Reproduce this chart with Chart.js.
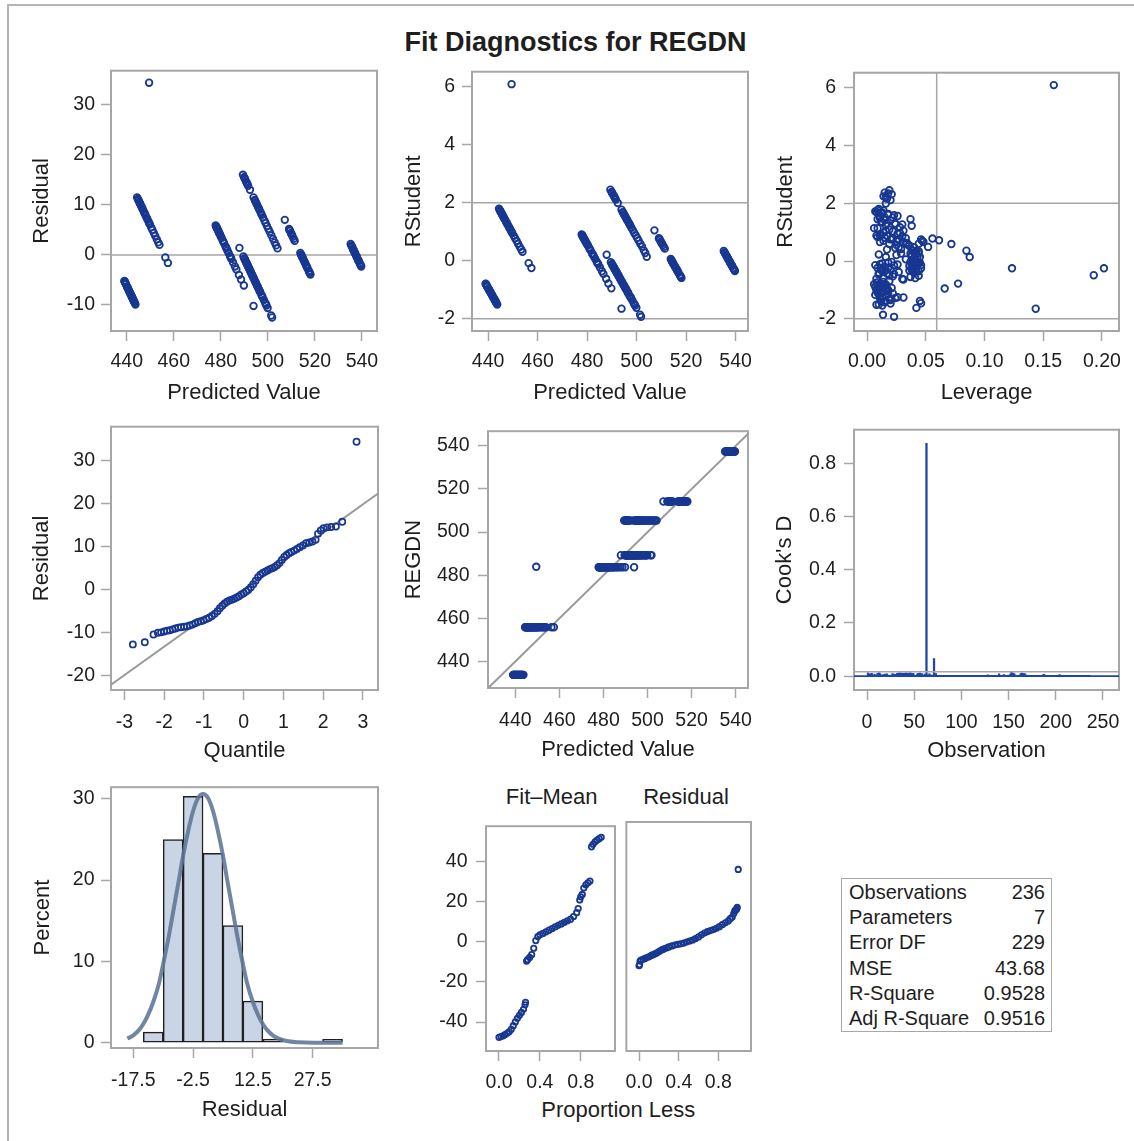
<!DOCTYPE html>
<html><head><meta charset="utf-8">
<script src="https://cdn.jsdelivr.net/npm/chart.js@4.4.1/dist/chart.umd.min.js"></script>
<style>
html,body{margin:0;padding:0;background:#fff;}
body{width:1134px;height:1141px;position:relative;overflow:hidden;font-family:"Liberation Sans",Arial,Helvetica,sans-serif;color:#1e1e1e;}
canvas{position:absolute;}
.txt{position:absolute;white-space:nowrap;}
</style></head><body>
<div style="position:absolute;left:7px;top:4px;width:1140px;height:1150px;border-left:2px solid #b4b4b4;border-top:2px solid #b4b4b4;"></div>
<div class="txt" style="left:0;width:1151px;top:26px;text-align:center;font-weight:bold;font-size:27px;line-height:32px;">Fit Diagnostics for REGDN</div>
<div class="txt" style="left:551.7px;top:784px;transform:translateX(-50%);font-size:22px;line-height:26px;">Fit–Mean</div>
<div class="txt" style="left:686px;top:784px;transform:translateX(-50%);font-size:22px;line-height:26px;">Residual</div>
<div class="txt" style="left:618.3px;top:1097px;transform:translateX(-50%);font-size:22px;line-height:26px;">Proportion Less</div>
<div style="position:absolute;left:841px;top:878px;width:211px;height:154px;box-sizing:border-box;border:1.5px solid #a8a8a8;"></div>
<div id="stats"></div>
<script>
// ---------------- data ----------------
// REGDN level of each group (observed response is constant within a group)
const regdnLevels = [433.8, 455.9, 483.7, 489.3, 505.4, 514.2, 537.4];

const pred433 = [439.0, 439.2, 439.6, 439.7, 440.1, 440.4, 440.5, 440.9, 441.2, 441.3, 441.7, 442.0, 442.1, 442.5, 442.9, 443.0, 443.4, 443.7, 439.1, 439.4, 440.2, 440.7, 441.5, 442.3, 442.7, 443.2];
const res433  = [-5.2, -5.4, -5.8, -5.9, -6.3, -6.6, -6.7, -7.1, -7.4, -7.5, -7.9, -8.2, -8.3, -8.7, -9.1, -9.2, -9.6, -9.9, -5.3, -5.6, -6.4, -6.9, -7.7, -8.5, -8.9, -9.4];
const rst433  = [-0.79, -0.82, -0.88, -0.90, -0.96, -1.00, -1.02, -1.08, -1.12, -1.14, -1.20, -1.25, -1.26, -1.32, -1.38, -1.40, -1.46, -1.51, -0.80, -0.85, -0.97, -1.05, -1.17, -1.29, -1.35, -1.43];
const lev433  = [0.012, 0.009, 0.015, 0.007, 0.011, 0.018, 0.008, 0.013, 0.022, 0.010, 0.016, 0.026, 0.031, 0.019, 0.045, 0.012, 0.046, 0.008, 0.006, 0.014, 0.009, 0.017, 0.007, 0.011, 0.020, 0.015];

const pred456 = [444.4, 444.7, 445.0, 445.3, 445.5, 445.9, 446.2, 446.6, 446.9, 447.3, 447.7, 448.0, 448.4, 448.9, 449.3, 449.8, 450.4, 450.9, 451.5, 452.1, 452.8, 453.4, 453.9, 456.4, 457.5, 444.9, 445.7, 446.4, 447.5, 448.6, 449.6];
const res456  = [11.5, 11.2, 10.9, 10.6, 10.4, 10.0, 9.7, 9.3, 9.0, 8.6, 8.2, 7.9, 7.5, 7.0, 6.6, 6.1, 5.5, 5.0, 4.4, 3.8, 3.1, 2.5, 2.0, -0.5, -1.6, 11.0, 10.2, 9.5, 8.4, 7.3, 6.3];
const rst456  = [1.80, 1.75, 1.70, 1.66, 1.63, 1.56, 1.52, 1.45, 1.41, 1.34, 1.28, 1.23, 1.17, 1.09, 1.03, 0.95, 0.86, 0.78, 0.69, 0.59, 0.48, 0.39, 0.31, -0.08, -0.25, 1.72, 1.59, 1.48, 1.31, 1.14, 0.98];
const lev456  = [0.010, 0.014, 0.008, 0.012, 0.018, 0.011, 0.015, 0.009, 0.020, 0.013, 0.024, 0.016, 0.028, 0.019, 0.022, 0.026, 0.030, 0.021, 0.025, 0.033, 0.027, 0.038, 0.041, 0.044, 0.046, 0.007, 0.023, 0.011, 0.017, 0.009, 0.014];

const pred483 = [477.8, 478.1, 478.3, 478.6, 478.9, 479.2, 479.5, 479.9, 480.3, 480.8, 481.4, 482.0, 482.4, 482.8, 483.3, 483.9, 484.5, 485.2, 486.0, 486.6, 487.7, 488.6, 489.8, 493.9, 478.0, 478.4, 478.8, 479.4, 480.1, 481.1, 482.2, 484.2];
const res483  = [5.9, 5.6, 5.4, 5.1, 4.8, 4.5, 4.2, 3.8, 3.4, 2.9, 2.3, 1.7, 1.3, 0.9, 0.4, -0.2, -0.8, -1.5, -2.3, -2.9, -4.0, -4.9, -6.1, -10.2, 5.7, 5.3, 4.9, 4.3, 3.6, 2.6, 1.5, -0.5];
const rst483  = [0.91, 0.87, 0.83, 0.79, 0.74, 0.70, 0.65, 0.59, 0.53, 0.45, 0.36, 0.26, 0.20, 0.14, 0.06, -0.03, -0.12, -0.23, -0.36, -0.45, -0.62, -0.78, -0.95, -1.65, 0.88, 0.81, 0.75, 0.66, 0.56, 0.40, 0.23, -0.08];
const lev483  = [0.012, 0.017, 0.009, 0.022, 0.027, 0.014, 0.031, 0.019, 0.036, 0.024, 0.042, 0.029, 0.038, 0.016, 0.033, 0.021, 0.026, 0.018, 0.013, 0.023, 0.030, 0.0775, 0.0661, 0.1436, 0.008, 0.015, 0.020, 0.011, 0.025, 0.017, 0.010, 0.013];

const pred489 = [487.9, 489.6, 490.0, 490.3, 490.6, 490.9, 491.2, 491.5, 491.8, 492.1, 492.4, 492.8, 493.1, 493.5, 493.8, 494.2, 494.6, 495.0, 495.4, 495.8, 496.2, 496.7, 497.2, 497.7, 498.3, 498.9, 499.4, 499.9, 501.4, 501.8, 490.2, 490.8, 491.4, 492.0, 492.6, 493.3, 494.0, 494.8, 495.6, 496.5, 497.5, 499.1];
const res489  = [1.4, -0.3, -0.7, -1.0, -1.3, -1.6, -1.9, -2.2, -2.5, -2.8, -3.1, -3.5, -3.8, -4.2, -4.5, -4.9, -5.3, -5.7, -6.1, -6.5, -6.9, -7.4, -7.9, -8.4, -9.0, -9.6, -10.1, -10.6, -12.1, -12.5, -0.9, -1.5, -2.1, -2.7, -3.3, -4.0, -4.7, -5.5, -6.3, -7.2, -8.2, -9.8];
const rst489  = [0.21, -0.05, -0.11, -0.15, -0.20, -0.24, -0.29, -0.34, -0.38, -0.43, -0.47, -0.53, -0.58, -0.64, -0.69, -0.75, -0.81, -0.87, -0.93, -0.99, -1.05, -1.13, -1.21, -1.28, -1.37, -1.47, -1.54, -1.62, -1.86, -1.93, -0.14, -0.23, -0.32, -0.41, -0.50, -0.61, -0.72, -0.84, -0.96, -1.10, -1.25, -1.50];
const lev489  = [0.025, 0.018, 0.011, 0.023, 0.015, 0.009, 0.020, 0.013, 0.027, 0.017, 0.010, 0.022, 0.014, 0.031, 0.019, 0.008, 0.016, 0.012, 0.021, 0.009, 0.014, 0.018, 0.011, 0.024, 0.016, 0.020, 0.013, 0.042, 0.0136, 0.023, 0.007, 0.012, 0.016, 0.010, 0.019, 0.008, 0.014, 0.011, 0.017, 0.009, 0.013, 0.010];

const pred505 = [489.4, 489.9, 490.3, 490.8, 491.3, 491.6, 492.4, 493.9, 494.4, 494.9, 495.5, 495.9, 496.4, 496.9, 497.4, 497.9, 498.5, 499.0, 499.6, 500.2, 500.8, 501.5, 502.2, 502.9, 503.5, 504.1, 490.1, 491.0, 494.6, 495.2, 496.1, 497.1];
const res505  = [16.0, 15.5, 15.1, 14.6, 14.1, 13.8, 13.0, 11.5, 11.0, 10.5, 9.9, 9.5, 9.0, 8.5, 8.0, 7.5, 6.9, 6.4, 5.8, 5.2, 4.6, 3.9, 3.2, 2.5, 1.9, 1.3, 15.3, 14.4, 10.8, 10.2, 9.3, 8.3];
const rst505  = [2.45, 2.37, 2.31, 2.24, 2.16, 2.11, 1.99, 1.76, 1.68, 1.60, 1.51, 1.45, 1.37, 1.30, 1.22, 1.14, 1.05, 0.97, 0.88, 0.79, 0.70, 0.59, 0.49, 0.36, 0.27, 0.14, 2.34, 2.21, 1.65, 1.56, 1.42, 1.27];
const lev505  = [0.019, 0.015, 0.021, 0.014, 0.017, 0.020, 0.016, 0.009, 0.013, 0.018, 0.022, 0.037, 0.012, 0.024, 0.038, 0.006, 0.016, 0.028, 0.011, 0.033, 0.047, 0.0718, 0.052, 0.0846, 0.044, 0.0874, 0.018, 0.016, 0.010, 0.026, 0.015, 0.030];

const pred514 = [507.2, 509.0, 509.4, 509.8, 510.2, 510.6, 511.0, 511.4, 513.8, 514.1, 514.3, 514.5, 514.9, 515.3, 515.8, 516.2, 516.6, 516.9, 517.4, 517.8, 518.1, 509.2, 510.0, 514.7, 515.6, 516.4, 517.6];
const res514  = [7.0, 5.2, 4.8, 4.4, 4.0, 3.6, 3.2, 2.8, 0.4, 0.1, -0.1, -0.3, -0.7, -1.1, -1.6, -2.0, -2.4, -2.7, -3.2, -3.6, -3.9, 5.0, 4.2, -0.5, -1.4, -2.2, -3.4];
const rst514  = [1.05, 0.78, 0.72, 0.66, 0.60, 0.54, 0.48, 0.42, 0.06, 0.02, -0.02, -0.05, -0.11, -0.17, -0.25, -0.30, -0.36, -0.41, -0.49, -0.55, -0.59, 0.75, 0.63, -0.08, -0.21, -0.33, -0.51];
const lev514  = [0.031, 0.0557, 0.0613, 0.048, 0.044, 0.036, 0.040, 0.029, 0.039, 0.041, 0.037, 0.043, 0.040, 0.036, 0.2017, 0.038, 0.042, 0.040, 0.193, 0.037, 0.041, 0.046, 0.034, 0.042, 0.039, 0.036, 0.044];

const pred537 = [535.2, 535.5, 535.9, 536.2, 536.5, 536.9, 537.2, 537.6, 537.9, 538.3, 538.6, 539.0, 539.3, 539.7, 535.7, 536.4, 537.0, 537.8, 538.5, 539.5];
const res537  = [2.2, 1.9, 1.5, 1.2, 0.9, 0.5, 0.2, -0.2, -0.5, -0.9, -1.2, -1.6, -1.9, -2.3, 1.7, 1.0, 0.4, -0.4, -1.1, -2.1];
const rst537  = [0.34, 0.29, 0.23, 0.18, 0.14, 0.08, 0.03, -0.03, -0.08, -0.14, -0.18, -0.25, -0.29, -0.35, 0.26, 0.15, 0.06, -0.06, -0.17, -0.32];
const lev537  = [0.044, 0.040, 0.042, 0.038, 0.045, 0.041, 0.039, 0.043, 0.040, 0.046, 0.042, 0.1234, 0.039, 0.044, 0.037, 0.043, 0.040, 0.045, 0.038, 0.041];

// the single outlying observation
const predOut = [449.5];
const resOut  = [34.4];
const rstOut  = [6.09];
const levOut  = [0.159];
const regdnOut = [483.9];

// Q-Q plot of residuals
const qqQuantile = [-2.79, -2.49, -2.27, -2.16, -2.08, -2.00, -1.93, -1.86, -1.79, -1.72, -1.65, -1.58, -1.50, -1.43, -1.36, -1.29, -1.22, -1.15, -1.08, -1.01, -0.94, -0.87, -0.80, -0.73, -0.66, -0.60, -0.54, -0.48, -0.42, -0.36, -0.30, -0.24, -0.18, -0.12, -0.06, 0.00, 0.06, 0.12, 0.18, 0.24, 0.30, 0.36, 0.42, 0.48, 0.54, 0.60, 0.66, 0.72, 0.78, 0.84, 0.90, 0.96, 1.02, 1.08, 1.14, 1.20, 1.27, 1.34, 1.41, 1.49, 1.57, 1.65, 1.73, 1.81, 1.87, 1.94, 2.01, 2.10, 2.20, 2.32, 2.48, 2.84];
const qqResidual = [-12.7, -12.2, -10.4, -10.0, -9.9, -9.7, -9.5, -9.4, -9.2, -9.0, -8.8, -8.7, -8.6, -8.5, -8.3, -8.1, -7.8, -7.5, -7.3, -7.1, -6.8, -6.5, -6.1, -5.6, -5.0, -4.3, -3.7, -3.2, -2.8, -2.5, -2.3, -2.1, -1.8, -1.5, -1.1, -0.8, -0.4, 0.0, 0.6, 1.3, 2.1, 2.9, 3.5, 3.9, 4.2, 4.5, 4.8, 5.0, 5.3, 5.7, 6.2, 6.9, 7.6, 8.1, 8.5, 8.8, 9.1, 9.5, 9.9, 10.3, 10.8, 11.0, 11.2, 11.6, 13.0, 13.8, 14.3, 14.5, 14.6, 14.7, 15.8, 34.4];
const qqLineX = [-3.34, 3.38];
const qqLineY = [-22.08, 22.34];

// Cook's D by observation number (1..236)
const cooksD = [
0.013,0.002,0.009,0.006,0.011,0.004,0.001,0.008,0.003,0.002,
0.010,0.012,0.013,0.009,0.004,0.002,0.006,0.003,0.008,0.007,
0.009,0.002,0.001,0.004,0.003,0.002,0.010,0.005,0.008,0.003,
0.007,0.011,0.012,0.010,0.013,0.009,0.012,0.011,0.006,0.012,
0.010,0.013,0.011,0.009,0.012,0.013,0.010,0.008,0.011,0.004,
0.003,0.002,0.006,0.011,0.009,0.012,0.007,0.010,0.003,0.002,
0.008,0.004,0.876,0.005,0.003,0.009,0.006,0.002,0.003,0.004,
0.066,0.003,0.010,0.002,0.001,0.001,0.002,0.001,0.001,0.002,
0.001,0.001,0.002,0.001,0.001,0.001,0.002,0.001,0.001,0.001,
0.001,0.002,0.001,0.001,0.001,0.002,0.001,0.001,0.001,0.001,
0.002,0.001,0.001,0.001,0.001,0.002,0.001,0.001,0.002,0.001,
0.001,0.001,0.002,0.001,0.001,0.001,0.002,0.001,0.001,0.001,
0.002,0.001,0.001,0.001,0.001,0.002,0.001,0.005,0.001,0.002,
0.001,0.002,0.001,0.001,0.002,0.001,0.002,0.001,0.003,0.009,
0.002,0.001,0.003,0.002,0.006,0.002,0.001,0.003,0.002,0.004,
0.003,0.008,0.015,0.013,0.011,0.009,0.004,0.003,0.002,0.003,
0.002,0.004,0.010,0.012,0.011,0.009,0.010,0.005,0.002,0.003,
0.002,0.001,0.002,0.001,0.003,0.002,0.001,0.002,0.001,0.002,
0.001,0.002,0.001,0.002,0.003,0.002,0.007,0.005,0.002,0.001,
0.001,0.002,0.001,0.001,0.002,0.001,0.001,0.002,0.001,0.001,
0.002,0.001,0.002,0.006,0.002,0.001,0.001,0.002,0.001,0.001,
0.001,0.002,0.001,0.001,0.001,0.002,0.001,0.001,0.001,0.002,
0.001,0.001,0.002,0.001,0.001,0.001,0.002,0.001,0.001,0.001,
0.002,0.001,0.001,0.001,0.002,0.001];
const cooksCutoff = 0.0169;

// residual histogram (bin midpoints, percent) and normal density curve
const histMid = [-12.5, -7.5, -2.5, 2.5, 7.5, 12.5, 17.5, 32.5];
const histPct = [1.3, 25.0, 30.3, 23.3, 14.4, 5.1, 0.4, 0.4];
const curveX = [-19, -17.5, -16, -15, -14, -12.5, -11, -10, -8.75, -7.5, -6.25, -5, -3.75, -2.5, -1.25, 0, 1.25, 2.5, 3.75, 5, 6.25, 7.5, 8.75, 10, 11, 12.5, 14, 15, 16, 17.5, 19, 21, 24, 28, 35];
const curveY = [0.5, 0.9, 1.6, 2.3, 3.2, 5.0, 7.4, 9.7, 12.7, 16.1, 19.5, 23.0, 26.0, 28.5, 30.1, 30.6, 30.1, 28.5, 26.0, 23.0, 19.5, 16.1, 12.7, 9.7, 7.4, 5.0, 3.2, 2.3, 1.6, 0.9, 0.5, 0.2, 0.05, 0.0, 0.0];

// residual-fit spread plot
const fitMeanProp = [0.00, 0.02, 0.04, 0.06, 0.08, 0.10, 0.12, 0.14, 0.16, 0.18, 0.20, 0.22, 0.24, 0.255, 0.26, 0.27, 0.28, 0.30, 0.32, 0.34, 0.36, 0.38, 0.40, 0.43, 0.46, 0.49, 0.52, 0.55, 0.58, 0.61, 0.64, 0.67, 0.70, 0.73, 0.76, 0.775, 0.79, 0.80, 0.815, 0.83, 0.85, 0.87, 0.89, 0.905, 0.92, 0.94, 0.96, 0.98, 1.00];
const fitMeanVal  = [-47.6, -47.2, -46.8, -46.2, -45.6, -44.8, -43.6, -41.8, -39.9, -38.1, -36.6, -35.2, -33.6, -31.4, -30.1, -9.6, -8.9, -7.8, -6.4, -3.2, 0.6, 2.6, 3.5, 4.2, 5.0, 5.8, 6.6, 7.4, 8.2, 8.9, 9.7, 10.5, 11.3, 12.6, 14.5, 16.6, 20.8, 22.4, 23.6, 26.8, 28.4, 29.4, 30.3, 47.3, 48.6, 49.8, 50.7, 51.4, 52.1];
const residProp = [0.00, 0.005, 0.01, 0.02, 0.04, 0.06, 0.08, 0.10, 0.12, 0.14, 0.16, 0.18, 0.20, 0.22, 0.24, 0.26, 0.28, 0.30, 0.33, 0.36, 0.39, 0.42, 0.45, 0.48, 0.51, 0.54, 0.57, 0.60, 0.63, 0.66, 0.69, 0.72, 0.75, 0.78, 0.81, 0.84, 0.87, 0.90, 0.92, 0.94, 0.955, 0.965, 0.975, 0.985, 0.99, 1.00];
const residVal  = [-12.7, -12.2, -10.4, -10.0, -9.6, -9.1, -8.7, -8.3, -7.8, -7.3, -6.9, -6.4, -5.8, -5.2, -4.7, -4.3, -3.9, -3.5, -3.0, -2.6, -2.3, -2.0, -1.6, -1.1, -0.6, -0.1, 0.6, 1.4, 2.4, 3.3, 4.0, 4.5, 5.0, 5.6, 6.4, 7.4, 8.3, 9.2, 10.3, 11.1, 12.8, 14.1, 14.6, 15.0, 15.8, 34.4];

// fit statistics
const statLabels = ['Observations', 'Parameters', 'Error DF', 'MSE', 'R-Square', 'Adj R-Square'];
const statValues = ['236', '7', '229', '43.68', '0.9528', '0.9516'];

// tick values / labels
const predTicks = [440, 460, 480, 500, 520, 540];
const predTickLabels = ['440', '460', '480', '500', '520', '540'];
const residTicks = [-10, 0, 10, 20, 30];
const residTickLabels = ['-10', '0', '10', '20', '30'];
const rstTicks = [-2, 0, 2, 4, 6];
const rstTickLabels = ['-2', '0', '2', '4', '6'];
const levTicks = [0, 0.05, 0.10, 0.15, 0.20];
const levTickLabels = ['0.00', '0.05', '0.10', '0.15', '0.20'];
const qTicks = [-3, -2, -1, 0, 1, 2, 3];
const qTickLabels = ['-3', '-2', '-1', '0', '1', '2', '3'];
const qqYTicks = [-20, -10, 0, 10, 20, 30];
const qqYTickLabels = ['-20', '-10', '0', '10', '20', '30'];
const regdnTicks = [440, 460, 480, 500, 520, 540];
const regdnTickLabels = ['440', '460', '480', '500', '520', '540'];
const obsTicks = [0, 50, 100, 150, 200, 250];
const obsTickLabels = ['0', '50', '100', '150', '200', '250'];
const cookTicks = [0, 0.2, 0.4, 0.6, 0.8];
const cookTickLabels = ['0.0', '0.2', '0.4', '0.6', '0.8'];
const histXTicks = [-17.5, -2.5, 12.5, 27.5];
const histXTickLabels = ['-17.5', '-2.5', '12.5', '27.5'];
const pctTicks = [0, 10, 20, 30];
const pctTickLabels = ['0', '10', '20', '30'];
const propTicks = [0, 0.4, 0.8];
const propTickLabels = ['0.0', '0.4', '0.8'];
const spreadTicks = [-40, -20, 0, 20, 40];
const spreadTickLabels = ['-40', '-20', '0', '20', '40'];

// ---------------- drawing ----------------
const FONT = '"Liberation Sans", Arial, Helvetica, sans-serif';
const GRAY = '#a6a6a6';
const MARK = '#173791';
const NEEDLE = '#1e44a6';
const TXT = '#1e1e1e';

const predGroups = [pred433, pred456, pred483, pred489, pred505, pred514, pred537, predOut];
const resGroups  = [res433, res456, res483, res489, res505, res514, res537, resOut];
const rstGroups  = [rst433, rst456, rst483, rst489, rst505, rst514, rst537, rstOut];
const levGroups  = [lev433, lev456, lev483, lev489, lev505, lev514, lev537, levOut];
const regdnGroups = regdnLevels.concat(regdnOut);

function pairs(xGroups, yGroups) {
  const out = [];
  xGroups.forEach((xs, g) => xs.forEach((x, i) => out.push({x, y: yGroups[g][i]})));
  return out;
}
function pts(xs, ys) { return xs.map((x, i) => ({x, y: ys[i]})); }

const framePlugin = {
  id: 'sasFrame',
  beforeDatasetsDraw(chart) {
    const a = chart.chartArea, ctx = chart.ctx;
    ctx.save(); ctx.strokeStyle = GRAY; ctx.lineWidth = 2;
    ctx.strokeRect(a.left, a.top, a.right - a.left, a.bottom - a.top);
    ctx.restore();
  }
};

function geom(g) {
  const LH = 22 * 1.2, padTop = 16, padR = 26;
  let cL, padL = 0;
  if (g.yTitleX != null) cL = Math.floor(g.yTitleX - 14);
  else if (g.yHidden) { cL = g.L - 5; padL = 5; }
  else cL = g.L - 70;
  const cT = g.T - padTop;
  const cB = g.xTitleY != null ? Math.ceil(g.xTitleY + 14) : g.B + 50;
  return Object.assign({}, g, {cL, cT, padL, padTop, padR, w: g.R + padR - cL, h: cB - cT,
    yW: g.L - cL - padL, xH: cB - g.B,
    yTitlePad: g.yTitleX != null ? g.yTitleX - cL - LH / 2 : 0,
    xTitlePad: g.xTitleY != null ? cB - g.xTitleY - LH / 2 : 0});
}

function axis(pos, rng, vals, labels, size, title, titlePad, tickPad, hidden) {
  return {
    type: 'linear', position: pos, min: rng[0], max: rng[1], bounds: 'data', offset: false, display: !hidden,
    grid: {display: true, drawOnChartArea: false, drawTicks: true, tickLength: 10, tickColor: GRAY, tickWidth: 1.5, offset: false},
    border: {display: false},
    ticks: {autoSkip: false, maxRotation: 0, minRotation: 0, padding: tickPad, color: TXT,
      font: {family: FONT, size: 19.5}, callback: v => labels[vals.indexOf(v)]},
    afterBuildTicks: s => { s.ticks = vals.map(v => ({value: v})); },
    afterFit: s => { if (pos === 'bottom') s.height = size; else s.width = size; },
    title: {display: !!title, text: title || '', color: TXT, font: {family: FONT, size: 22},
      padding: pos === 'bottom' ? {top: 0, bottom: titlePad} : {top: titlePad, bottom: 0}}
  };
}

function makeChart(g0, type, datasets, xa, ya) {
  const g = geom(g0);
  const c = document.createElement('canvas');
  c.width = g.w; c.height = g.h;
  c.style.left = g.cL + 'px'; c.style.top = g.cT + 'px';
  c.style.width = g.w + 'px'; c.style.height = g.h + 'px';
  document.body.appendChild(c);
  new Chart(c, {
    type, data: {datasets},
    options: {
      responsive: false, animation: false, devicePixelRatio: 1, events: [],
      layout: {padding: {top: g.padTop, right: g.padR, left: g.padL, bottom: 0}},
      plugins: {legend: {display: false}, tooltip: {enabled: false}},
      scales: {
        x: axis('bottom', xa.rng, xa.vals, xa.labels, g.xH, xa.title, g.xTitlePad, xa.pad),
        y: axis('left', ya.rng, ya.vals, ya.labels, g.yW, ya.title, g.yTitlePad, ya.pad, g.yHidden)
      }
    },
    plugins: [framePlugin]
  });
}

function scat(data, r, bw) {
  return {type: 'scatter', data, showLine: false, pointRadius: r, pointHoverRadius: r, pointBorderWidth: bw,
    pointBorderColor: MARK, pointBackgroundColor: 'rgba(255,255,255,0)', borderColor: MARK,
    backgroundColor: 'rgba(255,255,255,0)', order: 1};
}
function ref(data, color, w, order) {
  return {type: 'line', data, pointRadius: 0, borderColor: color || GRAY, borderWidth: w || 1.5,
    fill: false, tension: 0, order: order == null ? 2 : order};
}

const R_MAIN = 3.3, BW_MAIN = 1.8;

// Panel 1: Residual vs Predicted
const p1x = [433.3, 546.4], p1y = [-15.2, 36.8];
makeChart({L: 111, R: 377, T: 69, B: 331, yTitleX: 42, xTitleY: 393}, 'scatter',
  [ref([{x: p1x[0], y: 0}, {x: p1x[1], y: 0}]), scat(pairs(predGroups, resGroups), R_MAIN, BW_MAIN)],
  {rng: p1x, vals: predTicks, labels: predTickLabels, title: 'Predicted Value', pad: 9},
  {rng: p1y, vals: residTicks, labels: residTickLabels, title: 'Residual', pad: 6});

// Panel 2: RStudent vs Predicted
const p2x = [433.5, 545.0], p2y = [-2.42, 6.52];
makeChart({L: 472, R: 748, T: 69, B: 331, yTitleX: 414, xTitleY: 393}, 'scatter',
  [ref([{x: p2x[0], y: 2}, {x: p2x[1], y: 2}]), ref([{x: p2x[0], y: -2}, {x: p2x[1], y: -2}]),
   scat(pairs(predGroups, rstGroups), R_MAIN, BW_MAIN)],
  {rng: p2x, vals: predTicks, labels: predTickLabels, title: 'Predicted Value', pad: 9},
  {rng: p2y, vals: rstTicks, labels: rstTickLabels, title: 'RStudent', pad: 7});

// Panel 3: RStudent vs Leverage
const p3x = [-0.0111, 0.2145], p3y = [-2.42, 6.52], levCut = 0.0593;
makeChart({L: 854, R: 1119, T: 69, B: 331, yTitleX: 786, xTitleY: 393}, 'scatter',
  [ref([{x: p3x[0], y: 2}, {x: p3x[1], y: 2}]), ref([{x: p3x[0], y: -2}, {x: p3x[1], y: -2}]),
   ref([{x: levCut, y: p3y[0]}, {x: levCut, y: p3y[1]}]),
   scat(pairs(levGroups, rstGroups), R_MAIN, BW_MAIN)],
  {rng: p3x, vals: levTicks, labels: levTickLabels, title: 'Leverage', pad: 9},
  {rng: p3y, vals: rstTicks, labels: rstTickLabels, title: 'RStudent', pad: 8});

// Panel 4: Q-Q plot
makeChart({L: 111, R: 378, T: 425, B: 690, yTitleX: 42, xTitleY: 751}, 'scatter',
  [ref(pts(qqLineX, qqLineY), '#9a9a9a', 2), scat(pts(qqQuantile, qqResidual), 3.1, 1.7)],
  {rng: [-3.34, 3.38], vals: qTicks, labels: qTickLabels, title: 'Quantile', pad: 11},
  {rng: [-23.3, 37.9], vals: qqYTicks, labels: qqYTickLabels, title: 'Residual', pad: 6});

// Panel 5: REGDN vs Predicted
const p5x = [427.6, 545.6], p5y = [427.7, 546.8];
makeChart({L: 488, R: 748, T: 427, B: 688, yTitleX: 414, xTitleY: 750}, 'scatter',
  [ref([{x: 427.6, y: 427.6}, {x: 546.8, y: 546.8}], '#9a9a9a', 2),
   scat(predGroups.flatMap((xs, g) => xs.map(x => ({x, y: regdnGroups[g]}))), R_MAIN, BW_MAIN)],
  {rng: p5x, vals: predTicks, labels: predTickLabels, title: 'Predicted Value', pad: 11},
  {rng: p5y, vals: regdnTicks, labels: regdnTickLabels, title: 'REGDN', pad: 8.5});

// Panel 6: Cook's D
const p6x = [-13.8, 267], p6y = [-0.052, 0.927];
makeChart({L: 854, R: 1119, T: 426, B: 690, yTitleX: 785, xTitleY: 751}, 'bar',
  [{type: 'bar', data: cooksD.map((v, i) => ({x: i + 1, y: v})), backgroundColor: NEEDLE, borderWidth: 0,
    barThickness: 1.6, order: 3},
   ref([{x: p6x[0], y: 0}, {x: p6x[1], y: 0}], NEEDLE, 1.6, 1),
   ref([{x: p6x[0], y: cooksCutoff}, {x: p6x[1], y: cooksCutoff}], GRAY, 1.5, 0)],
  {rng: p6x, vals: obsTicks, labels: obsTickLabels, title: 'Observation', pad: 11},
  {rng: p6y, vals: cookTicks, labels: cookTickLabels, title: "Cook's D", pad: 8});

// Panel 7: histogram of residuals
makeChart({L: 111, R: 378, T: 785, B: 1048, yTitleX: 43, xTitleY: 1110}, 'bar',
  [{type: 'bar', data: pts(histMid, histPct), backgroundColor: '#c9d5e4', borderColor: '#202020', borderWidth: 1.5,
    borderSkipped: false, barPercentage: 1, categoryPercentage: 1, order: 2},
   {type: 'line', data: pts(curveX, curveY), borderColor: 'rgba(92,117,150,0.88)', borderWidth: 4, pointRadius: 0,
    tension: 0.4, cubicInterpolationMode: 'monotone', fill: false, order: 1}],
  {rng: [-23.1, 43.9], vals: histXTicks, labels: histXTickLabels, title: 'Residual', pad: 11},
  {rng: [-0.66, 31.43], vals: pctTicks, labels: pctTickLabels, title: 'Percent', pad: 6.5});

// Panel 8: residual-fit spread
makeChart({L: 486, R: 615, T: 822, B: 1051}, 'scatter',
  [scat(pts(fitMeanProp, fitMeanVal), 2.7, 1.8)],
  {rng: [-0.127, 1.135], vals: propTicks, labels: propTickLabels, pad: 10},
  {rng: [-54.4, 57.6], vals: spreadTicks, labels: spreadTickLabels, pad: 8.5});
makeChart({L: 620, R: 751, T: 822, B: 1051, yHidden: true}, 'scatter',
  [scat(pts(residProp, residVal), 2.7, 1.8)],
  {rng: [-0.128, 1.129], vals: propTicks, labels: propTickLabels, pad: 10},
  {rng: [-54.4, 57.6], vals: spreadTicks, labels: spreadTickLabels, pad: 8.5});

// Panel 9: fit statistics table
const st = document.getElementById('stats');
statLabels.forEach((lab, i) => {
  const row = document.createElement('div');
  row.className = 'txt';
  row.style.cssText = 'left:849px;width:196px;top:' + (880 + i * 25.2) + 'px;font-size:20px;line-height:25px;display:flex;justify-content:space-between;';
  const a = document.createElement('span'); a.textContent = lab;
  const b = document.createElement('span'); b.textContent = statValues[i];
  row.appendChild(a); row.appendChild(b); st.appendChild(row);
});
</script>
</body></html>
